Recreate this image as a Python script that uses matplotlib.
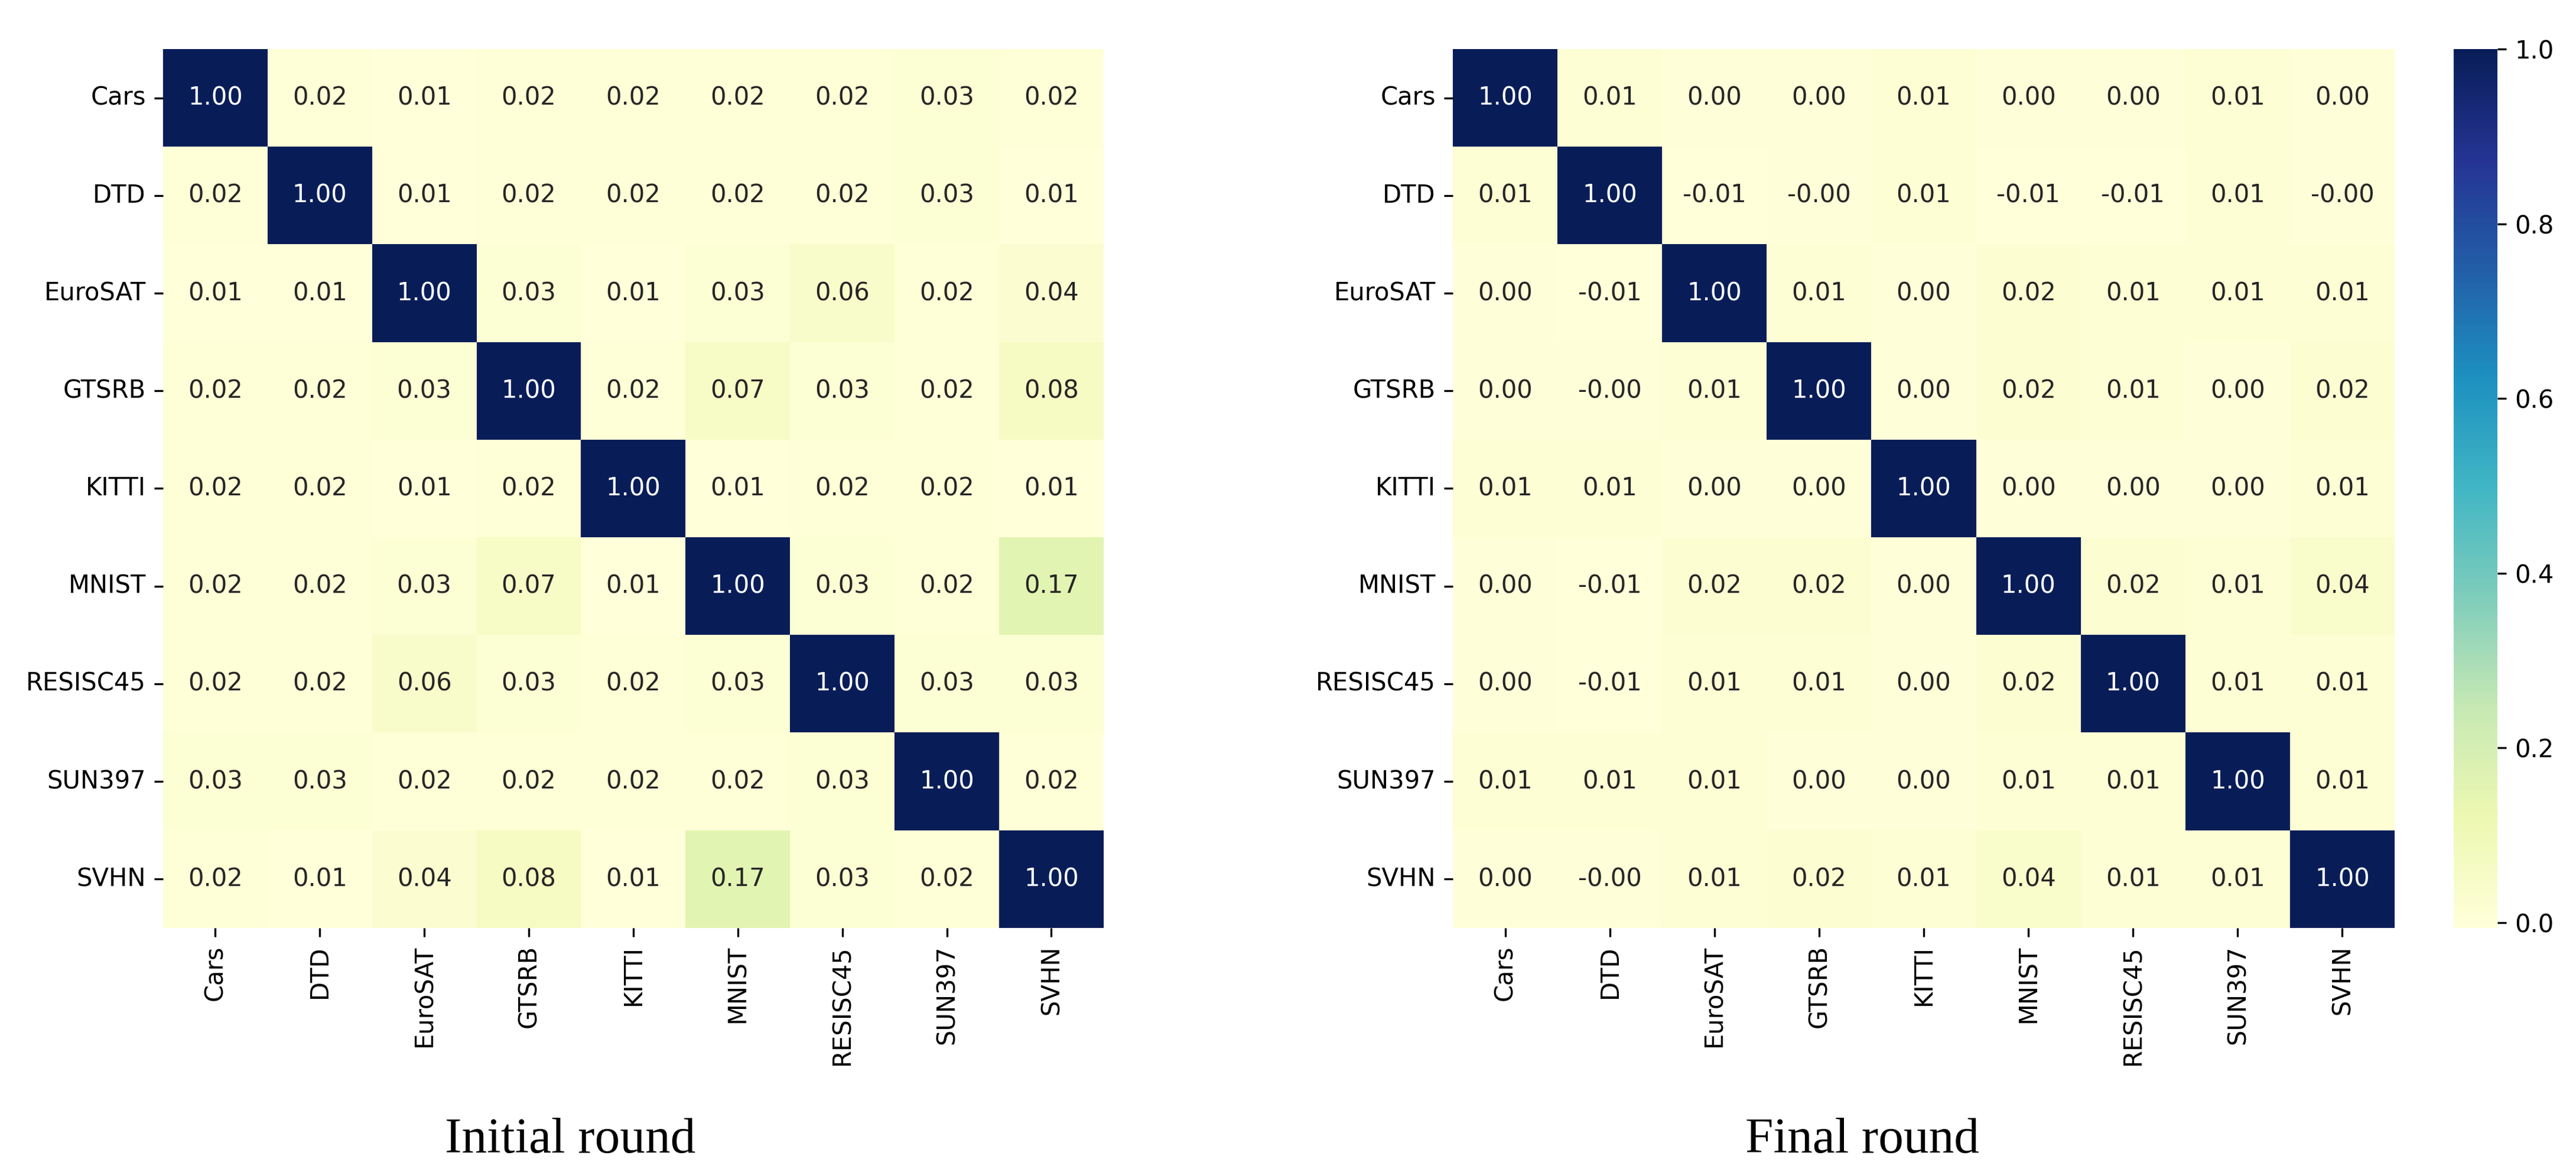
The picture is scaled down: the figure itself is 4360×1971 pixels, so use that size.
import matplotlib
matplotlib.use("Agg")
import matplotlib.pyplot as plt
import seaborn as sns

# task names, shared by both matrices
tasks = ["Cars", "DTD", "EuroSAT", "GTSRB", "KITTI",
         "MNIST", "RESISC45", "SUN397", "SVHN"]

# cosine similarity between task vectors, initial round
initial_sim = [
    [1.00, 0.02, 0.01, 0.02, 0.02, 0.02, 0.02, 0.03, 0.02],
    [0.02, 1.00, 0.01, 0.02, 0.02, 0.02, 0.02, 0.03, 0.01],
    [0.01, 0.01, 1.00, 0.03, 0.01, 0.03, 0.06, 0.02, 0.04],
    [0.02, 0.02, 0.03, 1.00, 0.02, 0.07, 0.03, 0.02, 0.08],
    [0.02, 0.02, 0.01, 0.02, 1.00, 0.01, 0.02, 0.02, 0.01],
    [0.02, 0.02, 0.03, 0.07, 0.01, 1.00, 0.03, 0.02, 0.17],
    [0.02, 0.02, 0.06, 0.03, 0.02, 0.03, 1.00, 0.03, 0.03],
    [0.03, 0.03, 0.02, 0.02, 0.02, 0.02, 0.03, 1.00, 0.02],
    [0.02, 0.01, 0.04, 0.08, 0.01, 0.17, 0.03, 0.02, 1.00],
]

# cosine similarity between task vectors, final round
final_sim = [
    [1.00, 0.01, 0.00, 0.00, 0.01, 0.00, 0.00, 0.01, 0.00],
    [0.01, 1.00, -0.006, -0.002, 0.01, -0.006, -0.006, 0.01, -0.002],
    [0.00, -0.006, 1.00, 0.01, 0.00, 0.02, 0.01, 0.01, 0.01],
    [0.00, -0.002, 0.01, 1.00, 0.00, 0.02, 0.01, 0.00, 0.02],
    [0.01, 0.01, 0.00, 0.00, 1.00, 0.00, 0.00, 0.00, 0.01],
    [0.00, -0.006, 0.02, 0.02, 0.00, 1.00, 0.02, 0.01, 0.04],
    [0.00, -0.006, 0.01, 0.01, 0.00, 0.02, 1.00, 0.01, 0.01],
    [0.01, 0.01, 0.01, 0.00, 0.00, 0.01, 0.01, 1.00, 0.01],
    [0.00, -0.002, 0.01, 0.02, 0.01, 0.04, 0.01, 0.01, 1.00],
]

captions = ["Initial round", "Final round"]

fig = plt.figure(figsize=(4360 / 300, 1971 / 300), dpi=300)

# axes placed to match the original layout
ax_left = fig.add_axes([0.0633, 0.2035, 0.3651, 0.7544])
ax_right = fig.add_axes([0.5640, 0.2035, 0.3656, 0.7544])
cbar_ax = fig.add_axes([0.9525, 0.2035, 0.0170, 0.7544])

sns.heatmap(initial_sim, ax=ax_left, cmap="YlGnBu", annot=True, fmt=".2f",
            xticklabels=tasks, yticklabels=tasks, cbar=False)
sns.heatmap(final_sim, ax=ax_right, cmap="YlGnBu", annot=True, fmt=".2f",
            xticklabels=tasks, yticklabels=tasks, cbar_ax=cbar_ax)

for ax in (ax_left, ax_right):
    ax.tick_params(axis="x", labelrotation=90)
    ax.tick_params(axis="y", labelrotation=0)

# captions under each panel
fig.text(0.2213, 0.0107, captions[0], ha="center", va="baseline",
         family="Liberation Serif", fontsize=20.5)
fig.text(0.7230, 0.0107, captions[1], ha="center", va="baseline",
         family="Liberation Serif", fontsize=20.5)

fig.savefig("out.png", dpi=300)
